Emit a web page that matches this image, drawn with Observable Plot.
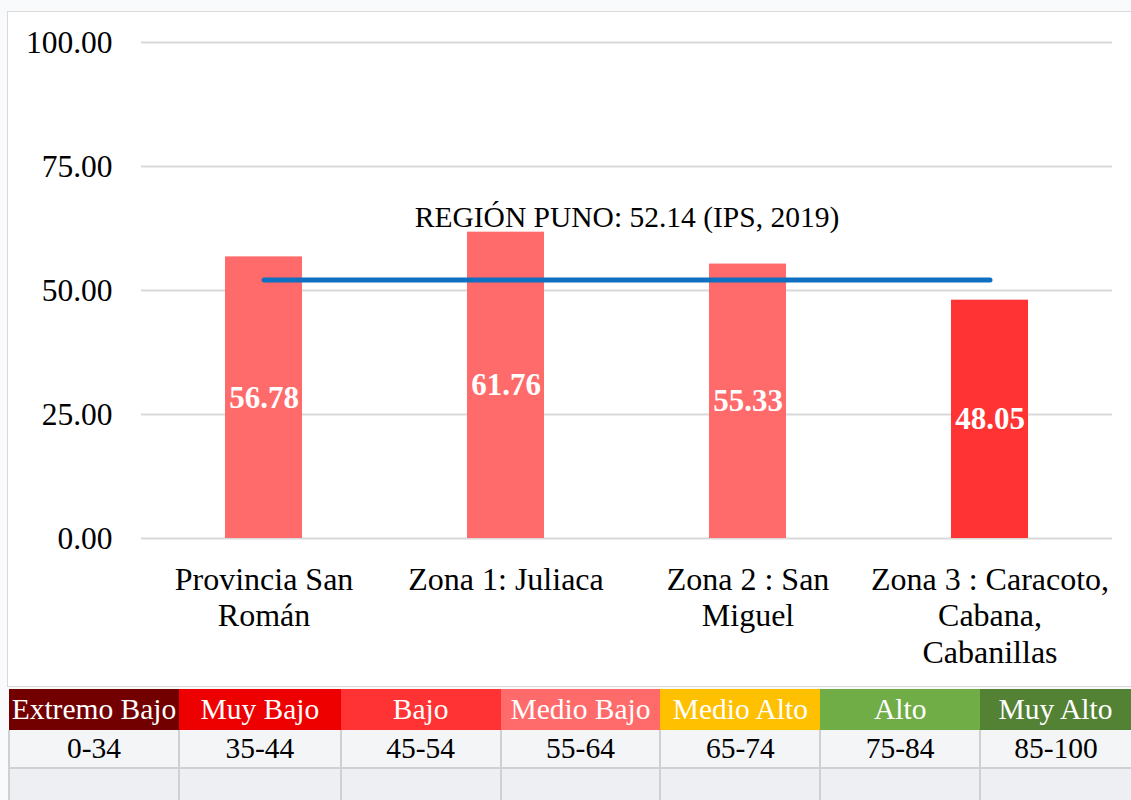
<!DOCTYPE html>
<html>
<head>
<meta charset="utf-8">
<script src="https://cdn.jsdelivr.net/npm/d3@7"></script>
<script src="https://cdn.jsdelivr.net/npm/@observablehq/plot@0.6"></script>
<style>
  html, body { margin: 0; padding: 0; background: #f8fafb; }
  body { width: 1131px; height: 800px; position: relative; overflow: hidden; font-family: "Liberation Serif", "Times New Roman", serif; }
  #frame { position: absolute; left: 7px; top: 11px; width: 1140px; height: 674px; border: 1.5px solid #d9d9d9; background: #fff; }
  #chart { position: absolute; left: 0; top: 0; }
  #legend { position: absolute; left: 8px; top: 689px; border-collapse: collapse; table-layout: fixed; }
  #legend td { padding: 0; text-align: center; font-size: 29.5px; font-family: "Liberation Serif", serif; white-space: nowrap; overflow: hidden; }
  #legend tr.head td { height: 41px; color: #fff; }
  #legend tr.range td { height: 37px; color: #000; background: #f4f5f7; border-left: 2px solid #d0d0d0; border-bottom: 2px solid #d0d0d0; }
  #legend tr.empty td { height: 40px; background: #eeeff2; border-left: 2px solid #d0d0d0; }
</style>
</head>
<body>
<div id="frame"></div>
<div id="chart"></div>
<table id="legend"></table>
<script>
// ---- data ----
const categories = ["Provincia San Román", "Zona 1: Juliaca", "Zona 2 : San Miguel", "Zona 3 : Caracoto, Cabana, Cabanillas"];
const categoryLabels = ["Provincia San\nRomán", "Zona 1: Juliaca", "Zona 2 : San\nMiguel", "Zona 3 : Caracoto,\nCabana,\nCabanillas"];
const values = [56.78, 61.76, 55.33, 48.05];
const valueLevels = ["Medio Bajo", "Medio Bajo", "Medio Bajo", "Bajo"];
const yTicks = [0, 25, 50, 75, 100];
const refValue = 52.14;
const refLabel = "REGIÓN PUNO: 52.14 (IPS, 2019)";
const levels = ["Extremo Bajo", "Muy Bajo", "Bajo", "Medio Bajo", "Medio Alto", "Alto", "Muy Alto"];
const levelRanges = ["0-34", "35-44", "45-54", "55-64", "65-74", "75-84", "85-100"];
const levelColors = ["#720000", "#EE0000", "#FF3333", "#FF6B6B", "#FFC000", "#70AD47", "#548235"];

const data = categories.map((c, i) => ({cat: c, value: values[i], level: valueLevels[i]}));
const labelOf = new Map(categories.map((c, i) => [c, categoryLabels[i]]));
const refData = [categories[0], categories[categories.length - 1]].map(c => ({cat: c, value: refValue}));

const chart = Plot.plot({
  width: 1131,
  height: 686,
  marginLeft: 141,
  marginRight: 19,
  marginTop: 42,
  marginBottom: 148,
  style: {fontFamily: "Liberation Serif, serif", fontSize: "29px", color: "#000", background: "transparent", overflow: "visible"},
  x: {domain: categories, paddingInner: 0.683, paddingOuter: 0.3415, label: null},
  y: {domain: [0, 100], label: null},
  color: {domain: levels, range: levelColors},
  marks: [
    Plot.gridY(yTicks, {stroke: "#d9d9d9", strokeOpacity: 1, strokeWidth: 2}),
    Plot.axisY({ticks: yTicks, tickFormat: d => d.toFixed(2), tickSize: 0, tickPadding: 29, fontSize: 31.5, label: null}),
    Plot.axisX({tickSize: 0, tickPadding: 25, fontSize: 32, lineHeight: 1.15, tickFormat: d => labelOf.get(d), label: null}),
    Plot.barY(data, {x: "cat", y: "value", fill: "level"}),
    Plot.line(refData, {x: "cat", y: "value", stroke: "#0F6FC0", strokeWidth: 5, strokeLinecap: "round"}),
    Plot.text([{label: refLabel, value: refValue}], {frameAnchor: "middle", y: "value", text: "label", dy: -62, fontSize: 29.5, fill: "#000"}),
    Plot.text(data, {x: "cat", y: d => d.value / 2, text: d => d.value.toFixed(2), fill: "#fff", fontWeight: "bold", fontSize: 31})
  ]
});
document.getElementById("chart").appendChild(chart);

// ---- legend table ----
const colWidths = [170, 162, 160, 160, 160, 160, 151];
const table = document.getElementById("legend");
const cg = document.createElement("colgroup");
colWidths.forEach(w => { const col = document.createElement("col"); col.style.width = w + "px"; cg.appendChild(col); });
table.appendChild(cg);
const trH = document.createElement("tr"); trH.className = "head";
levels.forEach((l, i) => { const td = document.createElement("td"); td.textContent = l; td.style.background = levelColors[i]; trH.appendChild(td); });
const trR = document.createElement("tr"); trR.className = "range";
levelRanges.forEach(r => { const td = document.createElement("td"); td.textContent = r; trR.appendChild(td); });
const trE = document.createElement("tr"); trE.className = "empty";
levels.forEach(() => { const td = document.createElement("td"); td.innerHTML = "&nbsp;"; trE.appendChild(td); });
table.appendChild(trH); table.appendChild(trR); table.appendChild(trE);
</script>
</body>
</html>
